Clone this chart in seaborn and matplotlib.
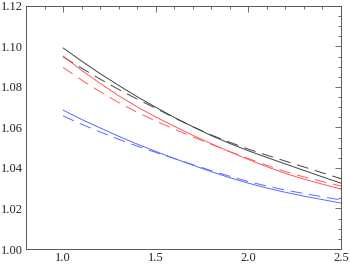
import numpy as np
import pandas as pd
import matplotlib
matplotlib.use("Agg")
import matplotlib.pyplot as plt
import seaborn as sns
from matplotlib.ticker import MultipleLocator

# values
x_vals = [1.0, 1.1, 1.2, 1.3, 1.4, 1.5, 1.6, 1.7, 1.8, 1.9, 2.0, 2.1, 2.2, 2.3, 2.4, 2.5]

black_solid = [1.0993, 1.0928, 1.0866, 1.0808, 1.0752, 1.0700, 1.0650, 1.0604,
               1.0560, 1.0521, 1.0485, 1.0452, 1.0420, 1.0388, 1.0356, 1.0325]
black_dashed = [1.0949, 1.0893, 1.0839, 1.0788, 1.0740, 1.0695, 1.0648, 1.0604,
                1.0563, 1.0527, 1.0493, 1.0463, 1.0434, 1.0405, 1.0376, 1.0347]
red_solid = [1.0953, 1.0882, 1.0818, 1.0757, 1.0702, 1.0652, 1.0606, 1.0562,
             1.0520, 1.0480, 1.0442, 1.0406, 1.0373, 1.0345, 1.0320, 1.0296]
red_dashed = [1.0897, 1.0834, 1.0777, 1.0723, 1.0675, 1.0632, 1.0592, 1.0554,
              1.0517, 1.0481, 1.0447, 1.0413, 1.0382, 1.0356, 1.0333, 1.0311]
blue_solid = [1.0686, 1.0640, 1.0598, 1.0557, 1.0518, 1.0482, 1.0447, 1.0414,
              1.0382, 1.0352, 1.0325, 1.0301, 1.0280, 1.0261, 1.0244, 1.0227]
blue_dashed = [1.0657, 1.0616, 1.0578, 1.0542, 1.0508, 1.0477, 1.0447, 1.0417,
               1.0387, 1.0359, 1.0333, 1.0311, 1.0291, 1.0274, 1.0258, 1.0242]

x_ticks = [1.0, 1.5, 2.0, 2.5]
y_ticks = [1.00, 1.02, 1.04, 1.06, 1.08, 1.10, 1.12]

sns.set_style("white")
plt.rcParams["font.family"] = ["Liberation Serif", "DejaVu Serif"]

fig = plt.figure(figsize=(3.5, 2.67), dpi=100)
ax = fig.add_axes([26 / 350, 18 / 267, 315 / 350, 243 / 267])

series = [
    (black_solid, "#444444", "-"),
    (black_dashed, "#444444", "--"),
    (red_solid, "#ff5a5a", "-"),
    (red_dashed, "#ff5a5a", "--"),
    (blue_solid, "#5a6aff", "-"),
    (blue_dashed, "#5a6aff", "--"),
]
for vals, col, ls in series:
    line = sns.lineplot(x=x_vals, y=vals, color=col, lw=0.7, ax=ax)
    l = ax.lines[-1]
    l.set_linestyle(ls)
    if ls == "--":
        l.set_dashes((12, 7))

ax.set_xlim(0.8, 2.5)
ax.set_ylim(1.00, 1.12)
ax.set_xticks(x_ticks)
ax.set_xticklabels([f"{t:.1f}" for t in x_ticks])
ax.set_yticks(y_ticks)
ax.set_yticklabels([f"{t:.2f}" for t in y_ticks])
ax.xaxis.set_minor_locator(MultipleLocator(0.1))
ax.yaxis.set_minor_locator(MultipleLocator(0.005))

ax.tick_params(which="both", direction="in", top=True, right=True,
               color="#555555", width=0.6)
ax.tick_params(which="major", length=4, labelsize=9, pad=2.5)
ax.tick_params(which="minor", length=2)
for sp in ax.spines.values():
    sp.set_color("#555555")
    sp.set_linewidth(0.7)

fig.savefig("out.png", dpi=100)
